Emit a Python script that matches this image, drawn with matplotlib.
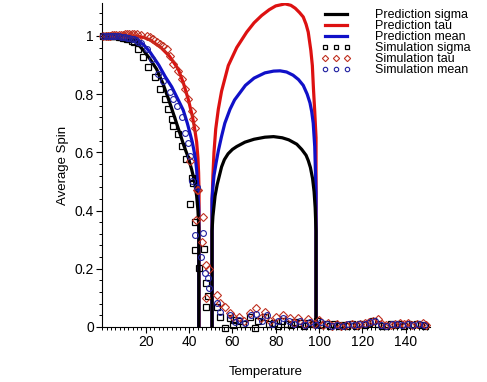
import matplotlib
matplotlib.use("Agg")
import matplotlib.pyplot as plt
from matplotlib.ticker import MultipleLocator, FixedLocator
from matplotlib.lines import Line2D

plt.rcParams['font.family'] = ['Liberation Sans', 'DejaVu Sans']

# ---------------- Prediction curves ----------------
# low-temperature branch (ends with vertical drop to 0)
pred_low_T = [0, 5, 10, 13, 16, 19, 22, 25, 28, 30.4, 32, 34, 36, 37.5, 39.5, 41.2, 42.5, 43.5, 44.1, 44.5, 44.5]
sigma_low = [1, 1, 0.998, 0.99, 0.975, 0.95, 0.92, 0.886, 0.835, 0.785, 0.75, 0.705, 0.66, 0.625, 0.585, 0.541, 0.5, 0.45, 0.4, 0.34, 0]

pred_low_T_mean = [0, 5, 10, 15, 19, 22, 26, 29, 32, 35, 37.3, 39.2, 41.5, 42.8, 43.5, 44.1, 44.5, 44.5]
mean_low = [1, 1, 1, 0.99, 0.97, 0.944, 0.9, 0.86, 0.825, 0.78, 0.745, 0.7, 0.635, 0.585, 0.54, 0.47, 0.4, 0]

pred_low_T_tau = [0, 5, 10, 15, 19, 22, 27, 31, 35, 37.5, 39.7, 41.5, 42.5, 43.5, 44.1, 44.4, 44.6, 44.6]
tau_low = [1, 1, 1, 1, 0.995, 0.986, 0.96, 0.93, 0.886, 0.835, 0.78, 0.725, 0.685, 0.635, 0.58, 0.53, 0.47, 0]

# high-temperature re-entrant branch (vertical rise at start, vertical drop at end)
pred_high_T_sigma = [50.6, 50.6, 51, 52, 53, 54, 55, 56.3, 58, 60, 62, 65.8, 70, 75, 79, 83, 86,
                     89.7, 92, 94, 95, 96, 97, 97.7, 98.2, 98.6, 98.6]
sigma_high = [0, 0.33, 0.38, 0.45, 0.49, 0.52, 0.55, 0.575, 0.595, 0.61, 0.62, 0.635, 0.645, 0.652,
              0.654, 0.65, 0.643, 0.628, 0.61, 0.59, 0.572, 0.548, 0.51, 0.465, 0.41, 0.33, 0]

pred_high_T_mean = [50.6, 50.6, 51, 51.5, 52.5, 53.5, 55, 56.5, 58.9, 61, 63, 66, 70, 75, 79, 82, 85,
                    88, 90.5, 92.7, 94.5, 95.8, 96.6, 97.3, 98, 98.6, 98.6]
mean_high = [0, 0.44, 0.48, 0.52, 0.565, 0.605, 0.655, 0.7, 0.748, 0.78, 0.8, 0.83, 0.855, 0.873,
             0.879, 0.88, 0.876, 0.865, 0.85, 0.83, 0.8, 0.77, 0.74, 0.7, 0.62, 0.46, 0]

pred_high_T_tau = [50.6, 50.6, 51, 51.5, 52.3, 53.5, 55, 58.1, 62, 66.6, 70, 73.5, 77, 80, 84.3, 87,
                   89, 91, 92.7, 94, 95, 96.2, 96.9, 97.4, 98, 98.6, 98.6]
tau_high = [0, 0.42, 0.52, 0.6, 0.68, 0.748, 0.81, 0.898, 0.96, 1.013, 1.045, 1.07, 1.09, 1.103, 1.11,
            1.105, 1.095, 1.08, 1.065, 1.04, 1.013, 0.95, 0.898, 0.82, 0.74, 0.65, 0]

# ---------------- Simulation points ----------------
sim_sigma_T = [0.5, 1.5, 2.5, 3.5, 4.5, 5.5, 6.5, 7.5, 8.5, 9.5, 10.5, 11.5, 12.5, 13.5,
               14.4, 16.6, 18.9, 21.2, 24.3, 26.6, 28.9, 30.4, 32.0, 32.7, 35.0, 36.6, 38.4,
               40.4, 41.2, 42.0, 42.7, 42.9, 44.6, 46.9, 47.7, 47.7, 48.9, 52.8, 54.3, 56.7,
               58.9, 60.4, 60.9, 63, 65, 68.1, 70.4, 72, 75, 77, 79, 81, 83, 85, 87, 89, 91,
               93, 95, 97, 99, 101, 103, 105, 107, 109, 111, 113, 115, 117, 119, 121, 123,
               125, 127, 129, 131, 133, 135, 137, 139, 141, 143, 145, 147, 149]
sim_sigma = [1, 1, 1, 1, 1, 0.998, 0.998, 0.997, 0.995, 0.994, 0.992, 0.99, 0.988, 0.984,
             0.978, 0.955, 0.926, 0.892, 0.858, 0.817, 0.783, 0.748, 0.714, 0.69, 0.662, 0.622, 0.576,
             0.421, 0.513, 0.496, 0.266, 0.36, 0.202, 0.268, 0.151, 0.07, 0.105, 0.07, 0.036, -0.004,
             0.03, 0.007, 0.024, 0.02, 0.01, 0.033, -0.005, 0.02, 0.036, 0.01, 0.015, 0.005, 0.02,
             0.012, 0.008, 0.018, 0.013, 0.005, 0.015, 0.01, 0.02, 0.008, 0.012, 0.004, 0.01, 0.002,
             0.006, 0.003, 0.012, 0.005, 0.01, 0.008, 0.015, 0.02, 0.012, 0.005, 0.003, 0.01, 0.008,
             0.012, 0.005, 0.01, 0.006, 0.012, 0.008, 0.004]

sim_tau_T = [0.5, 1.5, 2.5, 3.5, 4.5, 5.5, 6.5, 7.5, 8.5, 9.5, 10.5, 11.5, 12.5, 13.5, 14.5,
             16, 18, 20.4, 22, 23.5, 25, 26.6, 28, 29.7, 31.2, 32.7, 35, 36.6, 38.1, 39.7, 40.4,
             41.2, 42, 42.7, 43.2, 43.5, 44.3, 45.8, 46.6, 47.7, 47.7, 49.3, 52.8, 54.3, 56.7,
             58.9, 60.4, 63, 65.5, 68.1, 70.9, 73, 75, 77.5, 80, 83.5, 86.6, 88.5, 90.4, 93, 95,
             97.5, 100, 102, 104.3, 106, 108.1, 110, 112.5, 115, 117.5, 119, 121.2, 123, 125,
             127.3, 129, 131, 133, 135, 137.4, 139, 141.2, 143, 145, 147.8, 149.5]
sim_tau = [1, 1, 1, 1, 1.002, 1.002, 1.003, 1.003, 1.004, 1.004, 1.005, 1.005, 1.005, 1.005, 1.005,
           1.005, 1.003, 1.0, 0.995, 0.99, 0.98, 0.972, 0.965, 0.955, 0.932, 0.903, 0.88, 0.852,
           0.817, 0.783, 0.57, 0.742, 0.714, 0.685, 0.367, 0.472, 0.472, 0.291, 0.378, 0.214,
           0.099, 0.199, 0.11, 0.082, 0.07, 0.047, 0.036, 0.035, 0.02, 0.049, 0.064, 0.03, 0.053,
           0.02, 0.035, 0.041, 0.03, 0.015, 0.03, 0.012, 0.026, 0.01, 0.024, 0.008, 0.013, 0.005,
           0.01, 0.004, 0.006, 0.01, 0.008, 0.012, 0.013, 0.018, 0.02, 0.026, 0.01, 0.006, 0.008,
           0.012, 0.015, 0.01, 0.015, 0.008, 0.012, 0.013, 0.006]

sim_mean_T = [0.5, 1.5, 2.5, 3.5, 4.5, 5.5, 6.5, 7.5, 8.5, 9.5, 10.5, 11.5, 12.5, 13.5, 14.5,
              15.5, 16.5, 18, 20.4, 22.8, 25.8, 28.1, 31.2, 32.7, 34.3, 36.6, 38.1, 39.7, 40.4,
              41.2, 42.7, 43.5, 45.5, 46.6, 47.4, 48.9, 49.3, 52.8, 54.3, 58.9, 61.2, 63, 66,
              68.5, 71, 73.5, 76, 78.5, 81, 83.5, 86, 88.5, 91, 93.5, 96, 98.5, 101, 103.5, 106,
              108.5, 111, 113.5, 116, 118.5, 121, 123.5, 126, 128.5, 131, 133.5, 136, 138.5, 141,
              143.5, 146, 148.5]
sim_mean = [1, 1, 1, 1, 1, 0.999, 0.999, 0.998, 0.997, 0.996, 0.995, 0.994, 0.992, 0.99, 0.988,
            0.985, 0.98, 0.975, 0.955, 0.92, 0.869, 0.846, 0.806, 0.783, 0.76, 0.72, 0.668, 0.633,
            0.587, 0.501, 0.317, 0.48, 0.242, 0.323, 0.187, 0.168, 0.133, 0.082, 0.053, 0.041,
            0.018, 0.025, 0.015, 0.04, 0.045, 0.02, 0.04, 0.012, 0.02, 0.03, 0.022, 0.01, 0.02,
            0.008, 0.018, 0.006, 0.016, 0.01, 0.004, 0.008, 0.005, 0.01, 0.006, 0.01, 0.012, 0.016,
            0.02, 0.008, 0.004, 0.01, 0.012, 0.008, 0.012, 0.006, 0.01, 0.008]

x_ticks = [20, 40, 60, 80, 100, 120, 140]
y_ticks = [0, 0.2, 0.4, 0.6, 0.8, 1.0]
y_tick_labels = ["0", "0.2", "0.4", "0.6", "0.8", "1"]

legend_labels = ["Prediction sigma", "Prediction tau", "Prediction mean",
                 "Simulation sigma", "Simulation tau", "Simulation mean"]

# ---------------- Drawing ----------------
C_SIGMA = "#000000"
C_TAU = "#dd1111"
C_MEAN = "#1010c8"
C_TAU_SIM = "#c03020"
C_MEAN_SIM = "#2020a0"

fig = plt.figure(figsize=(4.87, 3.82), dpi=100)
ax = fig.add_axes([102.4 / 487, 55 / 382, (151 * 2.1667) / 487, 324 / 382])
ax.set_xlim(0, 151)
ax.set_ylim(0, 1.113)

lw = 2.3
ax.plot(pred_low_T_tau, tau_low, color=C_TAU, lw=lw, zorder=2)
ax.plot(pred_high_T_tau, tau_high, color=C_TAU, lw=lw, zorder=2)
ax.plot(pred_low_T_mean, mean_low, color=C_MEAN, lw=lw, zorder=3)
ax.plot(pred_high_T_mean, mean_high, color=C_MEAN, lw=lw, zorder=3)
ax.plot(pred_low_T, sigma_low, color=C_SIGMA, lw=lw, zorder=4)
ax.plot(pred_high_T_sigma, sigma_high, color=C_SIGMA, lw=lw, zorder=4)

ms = 4.2
ax.plot(sim_sigma_T, sim_sigma, ls='none', marker='s', mfc='none', mec=C_SIGMA, ms=ms, mew=0.9,
        zorder=5, clip_on=False)
ax.plot(sim_tau_T, sim_tau, ls='none', marker='D', mfc='none', mec=C_TAU_SIM, ms=ms, mew=0.8,
        zorder=5, clip_on=False)
ax.plot(sim_mean_T, sim_mean, ls='none', marker='o', mfc='none', mec=C_MEAN_SIM, ms=ms, mew=0.8,
        zorder=5, clip_on=False)

# axes style (Maple-like)
for s in ['top', 'right']:
    ax.spines[s].set_visible(False)
ax.spines['left'].set_linewidth(0.8)
ax.spines['bottom'].set_linewidth(0.8)
ax.spines['bottom'].set_position(('data', 0))

ax.xaxis.set_major_locator(FixedLocator(x_ticks))
ax.xaxis.set_minor_locator(MultipleLocator(2))
ax.yaxis.set_major_locator(FixedLocator(y_ticks))
ax.set_yticklabels(y_tick_labels)
ax.yaxis.set_minor_locator(MultipleLocator(0.04))
ax.tick_params(axis='both', which='major', length=4, width=0.8, labelsize=10, direction='out', pad=2)
ax.tick_params(axis='both', which='minor', length=2, width=0.7, direction='out')

ax.set_xlabel("Temperature", fontsize=9.5, labelpad=12)
ax.set_ylabel("Average Spin", fontsize=9.5, labelpad=4)

handles = [
    Line2D([], [], color=C_SIGMA, lw=lw),
    Line2D([], [], color=C_TAU, lw=lw),
    Line2D([], [], color=C_MEAN, lw=lw),
    Line2D([], [], ls='none', marker='s', mfc='none', mec=C_SIGMA, ms=3.2, mew=0.9),
    Line2D([], [], ls='none', marker='D', mfc='none', mec=C_TAU_SIM, ms=3.2, mew=0.8),
    Line2D([], [], ls='none', marker='o', mfc='none', mec=C_MEAN_SIM, ms=3.2, mew=0.8),
]
fig.legend(handles, legend_labels, loc='upper left', bbox_to_anchor=(321 / 487, 1 - 9 / 382),
           frameon=False, fontsize=9, numpoints=3, handlelength=2.4, handletextpad=1.9,
           labelspacing=-0.08, borderpad=0, borderaxespad=0)

fig.savefig("out.png", dpi=100)
